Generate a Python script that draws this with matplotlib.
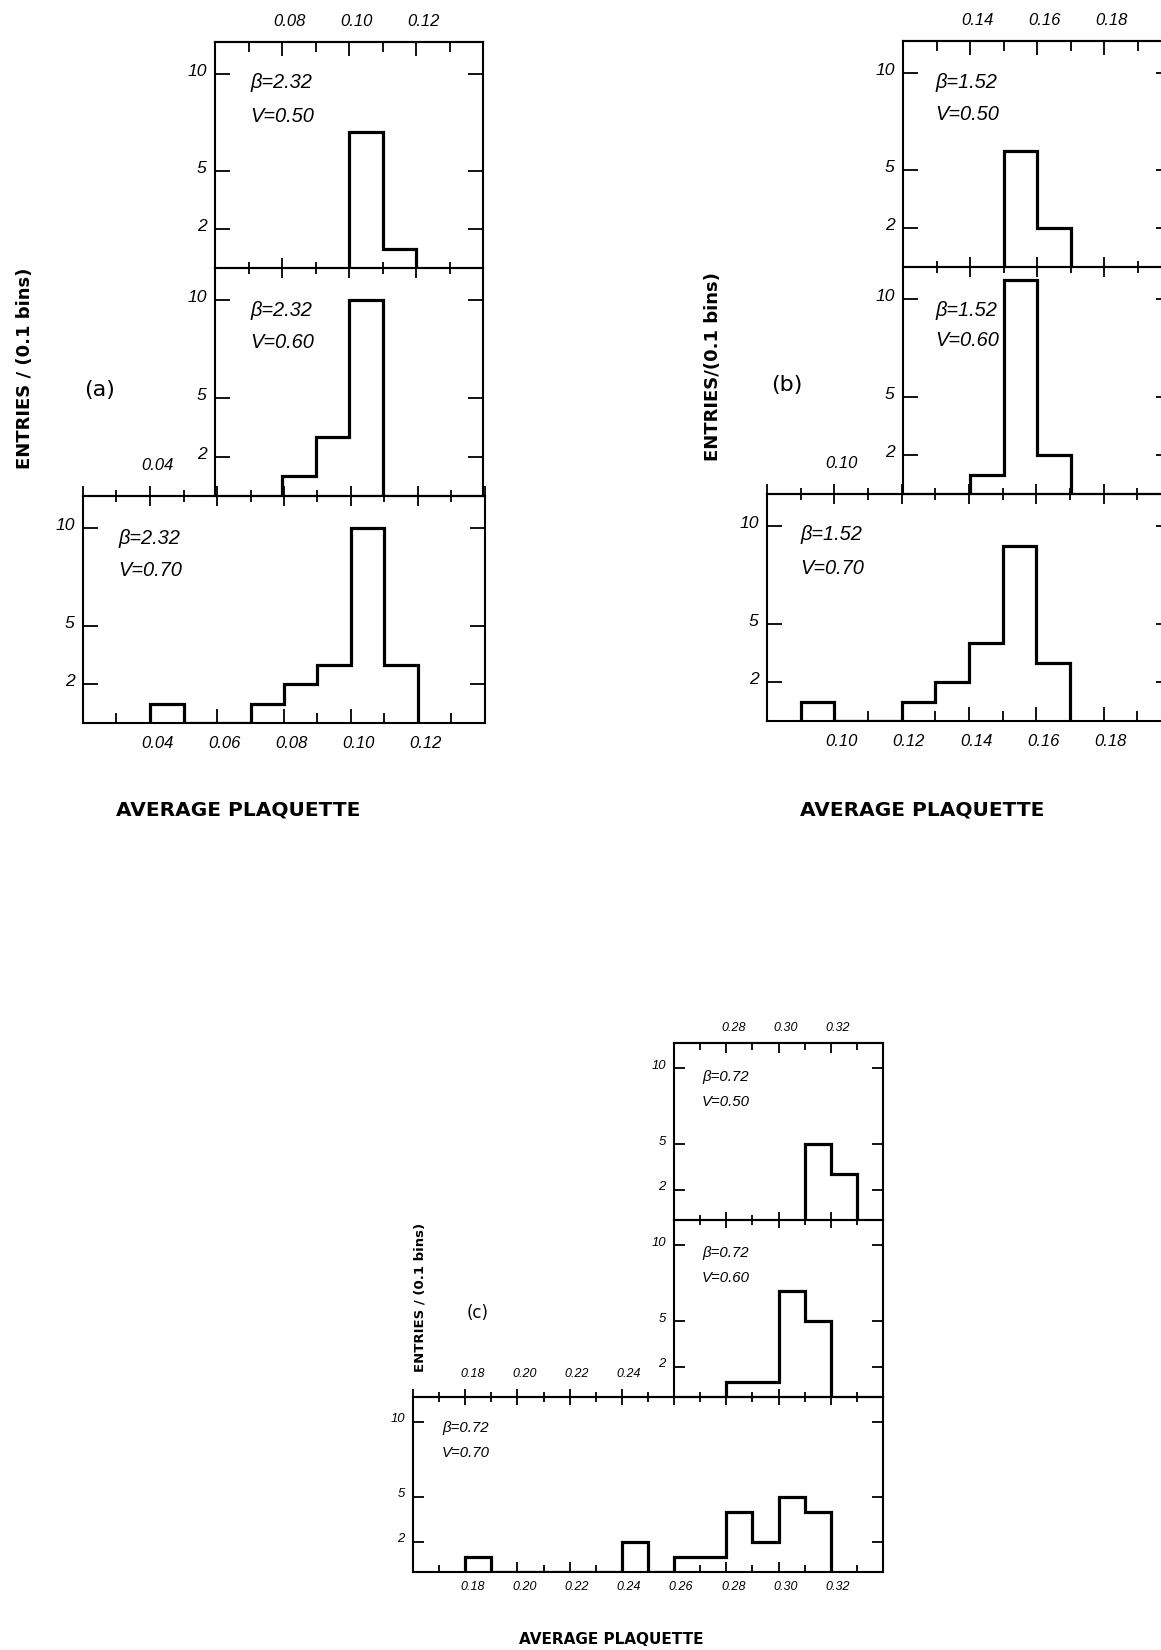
import matplotlib.pyplot as plt
from matplotlib.transforms import ScaledTranslation

W, H = 1161, 1650

# entries per 0.01 bin; edges are the bin boundaries
# (a) beta = 2.32
a_edges_050 = [0.10, 0.11, 0.12]
a_counts_050 = [7, 1]
a_edges_060 = [0.08, 0.09, 0.10, 0.11]
a_counts_060 = [1, 3, 10]
a_edges_070 = [0.04, 0.05, 0.06, 0.07, 0.08, 0.09, 0.10, 0.11, 0.12]
a_counts_070 = [1, 0, 0, 1, 2, 3, 10, 3]

# (b) beta = 1.52
b_edges_050 = [0.15, 0.16, 0.17]
b_counts_050 = [6, 2]
b_edges_060 = [0.14, 0.15, 0.16, 0.17]
b_counts_060 = [1, 11, 2]
b_edges_070 = [0.09, 0.10, 0.11, 0.12, 0.13, 0.14, 0.15, 0.16, 0.17]
b_counts_070 = [1, 0, 0, 1, 2, 4, 9, 3]

# (c) beta = 0.72
c_edges_050 = [0.31, 0.32, 0.33]
c_counts_050 = [5, 3]
c_edges_060 = [0.28, 0.29, 0.30, 0.31, 0.32]
c_counts_060 = [1, 1, 7, 5]
c_edges_070 = [0.18, 0.19, 0.20, 0.21, 0.22, 0.23, 0.24, 0.25, 0.26, 0.27,
               0.28, 0.29, 0.30, 0.31, 0.32]
c_counts_070 = [1, 0, 0, 0, 0, 0, 2, 0, 1, 1, 4, 2, 5, 4]

y_ticks = [2, 5, 10]

plt.rcParams['font.family'] = ['Liberation Sans', 'DejaVu Sans']
plt.rcParams['font.style'] = 'italic'

fig = plt.figure(figsize=(W / 100, H / 100), dpi=100)
fig.patch.set_facecolor('white')


def px_rect(x0, y0, x1, y1):
    return [x0 / W, 1 - y1 / H, (x1 - x0) / W, (y1 - y0) / H]


def hundredths(lo, hi, step):
    n0 = int(round(lo * 100))
    n1 = int(round(hi * 100))
    return [n / 100 for n in range(n0, n1 + 1) if n % 2 == step]


def panel(box, xlim, edges, counts, beta, vol, role, top_lab, bot_lab, fs, toff):
    ax = fig.add_axes(px_rect(*box))
    ax.patch.set_alpha(0)
    ax.stairs(counts, edges, baseline=0, color='black', lw=2.3)
    ax.set_xlim(*xlim)
    ax.set_ylim(0, 11.65)
    for s in ax.spines.values():
        s.set_linewidth(1.5)

    majors = hundredths(xlim[0], xlim[1], 0)
    minors = hundredths(xlim[0], xlim[1], 1)
    shift = ScaledTranslation(0.07, 0, fig.dpi_scale_trans)
    scale = fs / 12.0

    ax.set_yticks(y_ticks)
    ax.set_yticklabels([str(t) for t in y_ticks])
    ax.tick_params(axis='y', direction='in', left=True, right=True,
                   length=11 * scale, width=1.3, labelsize=fs * 1.05, pad=6)
    up = ScaledTranslation(0, 0.04, fig.dpi_scale_trans)
    for lab in ax.get_yticklabels():
        lab.set_transform(lab.get_transform() + up)

    ax.set_xticks(majors)
    ax.set_xticks(minors, minor=True)
    if role == 'mid':
        ax.tick_params(axis='x', which='both', bottom=False, top=False,
                       labelbottom=False)
    else:
        if role == 'top':
            ax.tick_params(axis='x', which='major', direction='inout',
                           length=15 * scale, width=1.3, labelbottom=False)
            ax.tick_params(axis='x', which='minor', direction='inout',
                           length=9 * scale, width=1.3)
        else:
            ax.set_xticklabels([f'{t:.2f}' if any(abs(t - v) < 1e-6 for v in bot_lab)
                                else '' for t in majors])
            ax.tick_params(axis='x', which='major', direction='in',
                           length=10 * scale, width=1.3, labelsize=fs, pad=9 * scale)
            ax.tick_params(axis='x', which='minor', direction='in',
                           length=7 * scale, width=1.3)
            for lab in ax.get_xticklabels():
                lab.set_transform(lab.get_transform() + shift)
        sec = ax.secondary_xaxis('top')
        sec.spines['top'].set_linewidth(1.5)
        sec.set_xticks(majors)
        sec.set_xticklabels([f'{t:.2f}' if any(abs(t - v) < 1e-6 for v in top_lab)
                             else '' for t in majors])
        sec.set_xticks(minors, minor=True)
        d = 'in' if role == 'top' else 'inout'
        ml = 10 if role == 'top' else 15
        nl = 7 if role == 'top' else 9
        sec.tick_params(axis='x', which='major', direction=d, length=ml * scale,
                        width=1.3, labelsize=fs, pad=9 * scale)
        sec.tick_params(axis='x', which='minor', direction=d, length=nl * scale,
                        width=1.3)
        for lab in sec.get_xticklabels():
            lab.set_transform(lab.get_transform() + shift)

    dx, dy1, dy2 = toff
    tfs = fs * 1.2
    ax.annotate(f'β={beta}', xy=(0, 1), xycoords='axes fraction',
                xytext=(dx, -dy1), textcoords='offset pixels',
                ha='left', va='center', fontsize=tfs)
    ax.annotate(f'V={vol}', xy=(0, 1), xycoords='axes fraction',
                xytext=(dx, -dy2), textcoords='offset pixels',
                ha='left', va='center', fontsize=tfs)
    return ax


# panel (a)
panel((215, 42, 483, 268), (0.06, 0.14), a_edges_050, a_counts_050, '2.32', '0.50',
      'top', [0.08, 0.10, 0.12], [], 12, (35, 41, 75))
panel((215, 268, 483, 496), (0.06, 0.14), a_edges_060, a_counts_060, '2.32', '0.60',
      'mid', [], [], 12, (35, 42, 75))
panel((83, 496, 485, 723), (0.02, 0.14), a_edges_070, a_counts_070, '2.32', '0.70',
      'bot', [0.04], [0.04, 0.06, 0.08, 0.10, 0.12], 12, (35, 42, 74))

# panel (b)
panel((903, 41, 1171, 267), (0.12, 0.20), b_edges_050, b_counts_050, '1.52', '0.50',
      'top', [0.14, 0.16, 0.18], [], 12, (32, 42, 74))
panel((903, 267, 1171, 494), (0.12, 0.20), b_edges_060, b_counts_060, '1.52', '0.60',
      'mid', [], [], 12, (32, 43, 74))
panel((767, 494, 1171, 721), (0.08, 0.20), b_edges_070, b_counts_070, '1.52', '0.70',
      'bot', [0.10], [0.10, 0.12, 0.14, 0.16, 0.18], 12, (33, 41, 74))

# panel (c)
panel((674, 1043, 883, 1220), (0.26, 0.34), c_edges_050, c_counts_050, '0.72', '0.50',
      'top', [0.28, 0.30, 0.32], [], 9, (28, 34, 59))
panel((674, 1220, 883, 1397), (0.26, 0.34), c_edges_060, c_counts_060, '0.72', '0.60',
      'mid', [], [], 9, (28, 33, 58))
panel((413, 1397, 883, 1572), (0.16, 0.34), c_edges_070, c_counts_070, '0.72', '0.70',
      'bot', [0.18, 0.20, 0.22, 0.24], [0.18, 0.20, 0.22, 0.24, 0.26, 0.28, 0.30, 0.32],
      9, (29, 31, 56))


def label(x, y, s, fs, rot=0, weight='bold'):
    fig.text(x / W, 1 - y / H, s, fontsize=fs, rotation=rot, ha='center', va='center',
             family=['DejaVu Sans'], style='normal', weight=weight)


label(25, 368, 'ENTRIES / (0.1 bins)', 13, rot=90)
label(100, 390, '(a)', 16, weight='normal')
label(238, 810, 'AVERAGE PLAQUETTE', 14.5)

label(713, 367, 'ENTRIES/(0.1 bins)', 13, rot=90)
label(787, 385, '(b)', 16, weight='normal')
label(922, 810, 'AVERAGE PLAQUETTE', 14.5)

label(420, 1297, 'ENTRIES / (0.1 bins)', 9.5, rot=90)
label(478, 1313, '(c)', 12, weight='normal')
label(611, 1640, 'AVERAGE PLAQUETTE', 11)

fig.savefig('out.png', dpi=100)
